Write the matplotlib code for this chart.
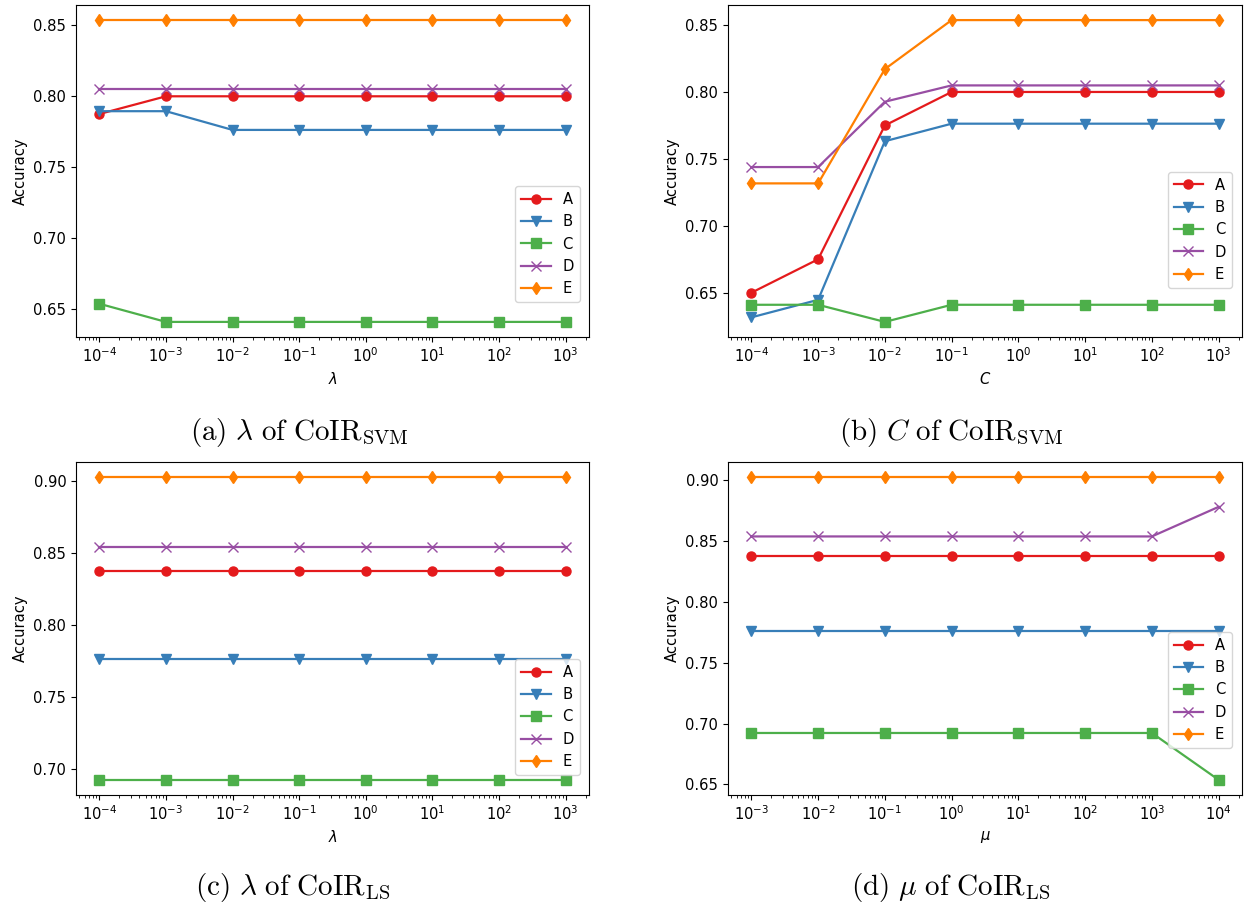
import numpy as np
import matplotlib
matplotlib.use("Agg")
import matplotlib.pyplot as plt

# sweep grids
grid_a = [1e-4, 1e-3, 1e-2, 1e-1, 1e0, 1e1, 1e2, 1e3]
grid_d = [1e-3, 1e-2, 1e-1, 1e0, 1e1, 1e2, 1e3, 1e4]

names = ["A", "B", "C", "D", "E"]
colors = ["#e41a1c", "#377eb8", "#4daf4a", "#984ea3", "#ff7f00"]
markers = ["o", "v", "s", "x", "d"]

# lambda of CoIR_SVM
lam_svm = {
    "A": [0.7875, 0.8000, 0.8000, 0.8000, 0.8000, 0.8000, 0.8000, 0.8000],
    "B": [0.7895, 0.7895, 0.7763, 0.7763, 0.7763, 0.7763, 0.7763, 0.7763],
    "C": [0.6538, 0.6410, 0.6410, 0.6410, 0.6410, 0.6410, 0.6410, 0.6410],
    "D": [0.8049, 0.8049, 0.8049, 0.8049, 0.8049, 0.8049, 0.8049, 0.8049],
    "E": [0.8537, 0.8537, 0.8537, 0.8537, 0.8537, 0.8537, 0.8537, 0.8537],
}
# C of CoIR_SVM
c_svm = {
    "A": [0.6500, 0.6750, 0.7750, 0.8000, 0.8000, 0.8000, 0.8000, 0.8000],
    "B": [0.6316, 0.6447, 0.7632, 0.7763, 0.7763, 0.7763, 0.7763, 0.7763],
    "C": [0.6410, 0.6410, 0.6282, 0.6410, 0.6410, 0.6410, 0.6410, 0.6410],
    "D": [0.7439, 0.7439, 0.7927, 0.8049, 0.8049, 0.8049, 0.8049, 0.8049],
    "E": [0.7317, 0.7317, 0.8171, 0.8537, 0.8537, 0.8537, 0.8537, 0.8537],
}
# lambda of CoIR_LS
lam_ls = {
    "A": [0.8375, 0.8375, 0.8375, 0.8375, 0.8375, 0.8375, 0.8375, 0.8375],
    "B": [0.7763, 0.7763, 0.7763, 0.7763, 0.7763, 0.7763, 0.7763, 0.7763],
    "C": [0.6923, 0.6923, 0.6923, 0.6923, 0.6923, 0.6923, 0.6923, 0.6923],
    "D": [0.8537, 0.8537, 0.8537, 0.8537, 0.8537, 0.8537, 0.8537, 0.8537],
    "E": [0.9024, 0.9024, 0.9024, 0.9024, 0.9024, 0.9024, 0.9024, 0.9024],
}
# mu of CoIR_LS
mu_ls = {
    "A": [0.8375, 0.8375, 0.8375, 0.8375, 0.8375, 0.8375, 0.8375, 0.8375],
    "B": [0.7763, 0.7763, 0.7763, 0.7763, 0.7763, 0.7763, 0.7763, 0.7763],
    "C": [0.6923, 0.6923, 0.6923, 0.6923, 0.6923, 0.6923, 0.6923, 0.6538],
    "D": [0.8537, 0.8537, 0.8537, 0.8537, 0.8537, 0.8537, 0.8537, 0.8780],
    "E": [0.9024, 0.9024, 0.9024, 0.9024, 0.9024, 0.9024, 0.9024, 0.9024],
}

captions = [
    r"$\mathrm{(a)}\ \lambda\ \mathrm{of\ CoIR}_{\mathrm{SVM}}$",
    r"$\mathrm{(b)}\ C\ \mathrm{of\ CoIR}_{\mathrm{SVM}}$",
    r"$\mathrm{(c)}\ \lambda\ \mathrm{of\ CoIR}_{\mathrm{LS}}$",
    r"$\mathrm{(d)}\ \mu\ \mathrm{of\ CoIR}_{\mathrm{LS}}$",
]
xlabels = [r"$\lambda$", r"$C$", r"$\lambda$", r"$\mu$"]

plt.rcParams["font.size"] = 10.6
plt.rcParams["mathtext.fontset"] = "dejavusans"

fig = plt.figure(figsize=(12.48, 9.07), dpi=100)

W, H = 1248.0, 907.0
# axes boxes in pixels: left, top, right, bottom
boxes = [(76, 5, 589, 337), (728, 5, 1242, 337),
         (76, 462, 589, 795), (728, 462, 1242, 795)]
legend_anchor = [(0.982, 0.105), (0.981, 0.148), (0.982, 0.06), (0.981, 0.141)]
caption_pos = [(299, 432), (951, 432), (293, 887), (951, 887)]

panels = [(grid_a, lam_svm), (grid_a, c_svm), (grid_a, lam_ls), (grid_d, mu_ls)]

for i, (xs, data) in enumerate(panels):
    l, t, r, b = boxes[i]
    ax = fig.add_axes([l / W, 1 - b / H, (r - l) / W, (b - t) / H])
    for name, col, mk in zip(names, colors, markers):
        ax.plot(xs, data[name], color=col, marker=mk, label=name,
                linewidth=1.6, markersize=6.5)
    ax.set_xscale("log")
    ax.set_xticks(xs)
    ax.set_xlim(xs[0] / 10 ** 0.35, xs[-1] * 10 ** 0.35)
    ax.set_xlabel(xlabels[i])
    ax.set_ylabel("Accuracy")
    ax.legend(loc="lower right", bbox_to_anchor=legend_anchor[i],
              borderaxespad=0)
    cx, cy = caption_pos[i]
    fig.text(cx / W, 1 - cy / H, captions[i], ha="center", va="center",
             fontsize=21, math_fontfamily="cm")

fig.savefig("out.png", dpi=100)
